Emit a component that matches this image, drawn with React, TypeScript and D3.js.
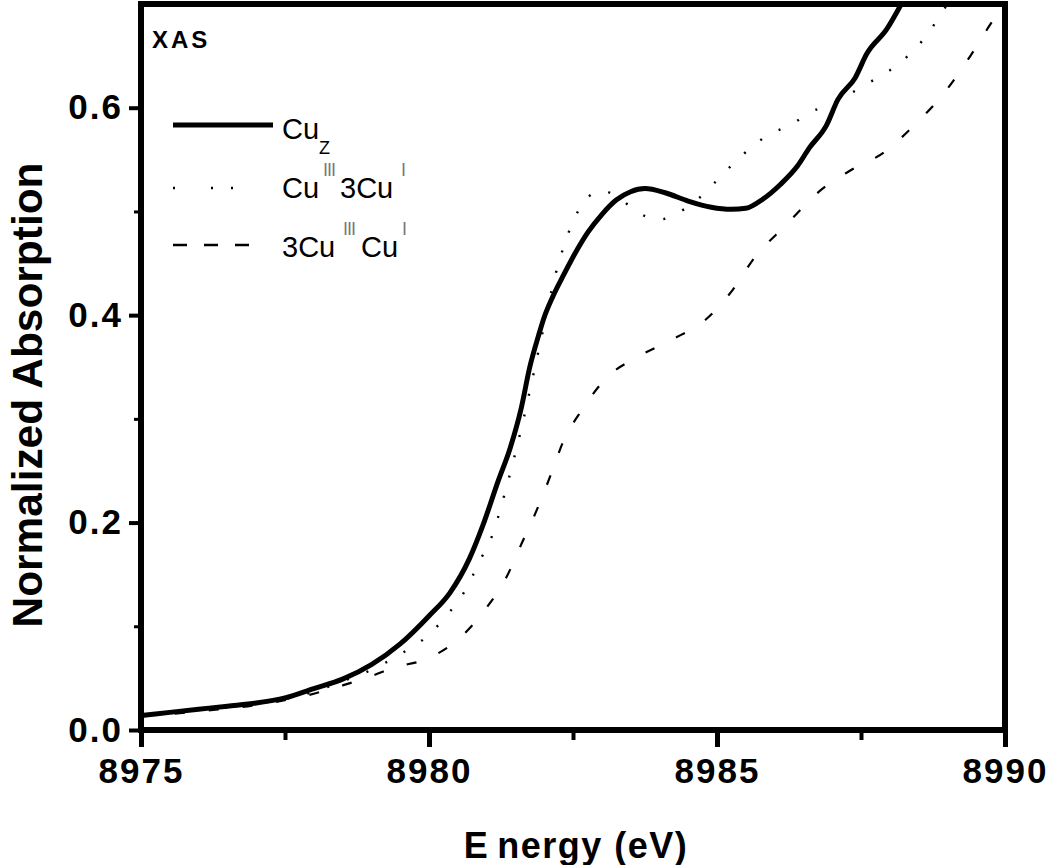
import React, { useEffect, useRef } from 'react'
import * as d3 from 'd3'

// Cu_z (solid)
const cuzEnergy = [
  8975.0, 8975.5, 8976.0, 8976.5, 8977.0, 8977.5, 8978.0, 8978.5, 8979.0, 8979.5,
  8980.0, 8980.36, 8980.7, 8980.94, 8981.2, 8981.41, 8981.6, 8981.75, 8981.9, 8982.0,
  8982.15, 8982.33, 8982.52, 8982.76, 8983.0, 8983.25, 8983.5, 8983.75, 8984.1, 8984.5,
  8984.9, 8985.25, 8985.5, 8985.8, 8986.1, 8986.4, 8986.6, 8986.9, 8987.1, 8987.4,
  8987.6, 8987.95, 8988.2,
]
const cuzAbs = [
  0.014, 0.017, 0.02, 0.023, 0.026, 0.031, 0.04, 0.049, 0.063, 0.083,
  0.11, 0.132, 0.165, 0.198, 0.24, 0.272, 0.31, 0.35, 0.38, 0.398,
  0.418, 0.438, 0.458, 0.48, 0.497, 0.511, 0.519, 0.522, 0.518, 0.51,
  0.504, 0.502, 0.503, 0.512, 0.526, 0.544, 0.561, 0.583, 0.608, 0.629,
  0.652, 0.676, 0.7,
]

// Cu(III)3Cu(I) (dotted)
const cu13Energy = [
  8975.0, 8976.0, 8977.0, 8978.0, 8978.5, 8979.0, 8979.5, 8980.0, 8980.3, 8980.6,
  8980.9, 8981.1, 8981.3, 8981.6, 8981.9, 8982.2, 8982.5, 8982.7, 8983.0, 8983.3,
  8983.6, 8984.0, 8984.3, 8984.65, 8985.0, 8985.3, 8985.9, 8986.3, 8986.6, 8987.0,
  8987.6, 8988.0, 8988.6, 8989.0,
]
const cu13Abs = [
  0.014, 0.019, 0.025, 0.037, 0.047, 0.058, 0.073, 0.092, 0.11, 0.132,
  0.165, 0.188, 0.225, 0.29, 0.365, 0.44, 0.49, 0.51, 0.52, 0.513,
  0.5, 0.492, 0.498, 0.511, 0.53, 0.547, 0.574, 0.584, 0.595, 0.604,
  0.623, 0.636, 0.667, 0.7,
]

// 3Cu(III)Cu(I) (dashed)
const cu31Energy = [
  8975.0, 8976.0, 8977.0, 8978.0, 8978.5, 8979.0, 8979.38, 8979.98, 8980.54, 8981.0,
  8981.35, 8981.61, 8981.87, 8982.1, 8982.33, 8982.66, 8983.09, 8983.63, 8984.2, 8984.81,
  8985.24, 8985.66, 8986.2, 8986.79, 8987.3, 8987.9, 8988.44, 8988.94, 8989.4, 8989.79,
  8990.0,
]
const cu31Abs = [
  0.013, 0.018, 0.024, 0.035, 0.043, 0.052, 0.06, 0.069, 0.089, 0.118,
  0.148, 0.18, 0.212, 0.244, 0.278, 0.309, 0.34, 0.36, 0.376, 0.396,
  0.422, 0.456, 0.487, 0.52, 0.539, 0.557, 0.584, 0.614, 0.65, 0.684,
  0.7,
]

const xTicks = [8975, 8980, 8985, 8990]
const xMinorTicks = [8977.5, 8982.5, 8987.5]
const yTicks = [0, 0.2, 0.4, 0.6]
const yMinorTicks = [0.1, 0.3, 0.5]

const width = 1050
const height = 865
const left = 141
const right = 1005
const top = 4
const bottom = 730

const font = '"Liberation Sans", Arial, sans-serif'

const App = () => {
  const xAxisRef = useRef(null)
  const xMinorRef = useRef(null)
  const yAxisRef = useRef(null)
  const yMinorRef = useRef(null)

  const xScale = d3.scaleLinear().domain([8975, 8990]).range([left, right])
  const yScale = d3.scaleLinear().domain([0, 0.7]).range([bottom, top])

  const lineGen = d3
    .line<[number, number]>()
    .x((d) => xScale(d[0]))
    .y((d) => yScale(d[1]))
    .curve(d3.curveMonotoneX)

  const zip = (xs, ys) => xs.map((x, i) => [x, ys[i]] as [number, number])

  useEffect(() => {
    const styleAxis = (g, w) => {
      g.select('.domain').remove()
      g.selectAll('line').attr('stroke', '#000').attr('stroke-width', w)
      g.selectAll('text')
        .attr('fill', '#000')
        .style('font-family', font)
        .style('font-weight', 'bold')
        .style('font-size', '35px')
        .style('letter-spacing', '2px')
    }

    d3.select(xAxisRef.current)
      .attr('transform', `translate(0,${bottom})`)
      .call(
        d3.axisBottom(xScale).tickValues(xTicks).tickSize(17).tickSizeOuter(0).tickPadding(11).tickFormat(d3.format('d'))
      )
      .call((g) => styleAxis(g, 5))

    d3.select(xMinorRef.current)
      .attr('transform', `translate(0,${bottom})`)
      .call(d3.axisBottom(xScale).tickValues(xMinorTicks).tickSize(10).tickSizeOuter(0).tickFormat(() => ''))
      .call((g) => styleAxis(g, 4))

    d3.select(yAxisRef.current)
      .attr('transform', `translate(${left},0)`)
      .call(
        d3.axisLeft(yScale).tickValues(yTicks).tickSize(12).tickSizeOuter(0).tickPadding(6).tickFormat(d3.format('.1f'))
      )
      .call((g) => styleAxis(g, 4))

    d3.select(yMinorRef.current)
      .attr('transform', `translate(${left},0)`)
      .call(d3.axisLeft(yScale).tickValues(yMinorTicks).tickSize(7).tickSizeOuter(0).tickFormat(() => ''))
      .call((g) => styleAxis(g, 3))
  }, [])

  return (
    <svg
      width={width}
      height={height}
      style={{ position: 'absolute', left: 0, top: 0, background: '#fff' }}
      fontFamily={font}
    >
      <defs>
        <clipPath id="plotClip">
          <rect x={left} y={top} width={right - left} height={bottom - top} />
        </clipPath>
      </defs>

      <g clipPath="url(#plotClip)" fill="none" stroke="#000">
        <path d={lineGen(zip(cu31Energy, cu31Abs))} strokeWidth={2.2} strokeDasharray="10 24" />
        <path d={lineGen(zip(cu13Energy, cu13Abs))} strokeWidth={2.4} strokeDasharray="2 19" strokeLinecap="butt" />
        <path d={lineGen(zip(cuzEnergy, cuzAbs))} strokeWidth={5} />
      </g>

      <g ref={xMinorRef} />
      <g ref={xAxisRef} />
      <g ref={yMinorRef} />
      <g ref={yAxisRef} />

      {/* frame */}
      <rect x={left} y={top} width={right - left} height={bottom - top} fill="none" stroke="#000" strokeWidth={6} />

      <text x={152} y={48} fontSize={24} fontWeight="bold" letterSpacing={3}>
        XAS
      </text>

      {/* legend */}
      <line x1={173} x2={273} y1={125} y2={125} stroke="#000" strokeWidth={5} />
      <text x={282} y={139} fontSize={29}>Cu</text>
      <text x={319} y={154} fontSize={18}>Z</text>

      <line x1={173} x2={236} y1={188} y2={188} stroke="#000" strokeWidth={2.4} strokeDasharray="2 36 2 18" />
      <text x={282} y={198} fontSize={29}>Cu</text>
      <text x={323} y={176} fontSize={18} fill="#777" letterSpacing={-1}>III</text>
      <text x={340} y={198} fontSize={29}>3Cu</text>
      <text x={401} y={176} fontSize={18} fill="#777">I</text>

      <line x1={173} x2={250} y1={245} y2={245} stroke="#000" strokeWidth={2.4} strokeDasharray="14 17" />
      <text x={282} y={257} fontSize={29}>3Cu</text>
      <text x={343} y={235} fontSize={18} fill="#777" letterSpacing={-1}>III</text>
      <text x={361} y={257} fontSize={29}>Cu</text>
      <text x={402} y={235} fontSize={18} fill="#777">I</text>

      {/* axis titles */}
      <text
        transform={`translate(42,${(top + bottom) / 2 + 28}) rotate(-90)`}
        textAnchor="middle"
        fontSize={42}
        fontWeight="bold"
        textLength={465}
        lengthAdjust="spacingAndGlyphs"
      >
        Normalized Absorption
      </text>
      <text x={576} y={858} textAnchor="middle" fontSize={36} fontWeight="bold" letterSpacing={1.5}>
        E<tspan dx={8}>nergy (eV)</tspan>
      </text>
    </svg>
  )
}

export default App
